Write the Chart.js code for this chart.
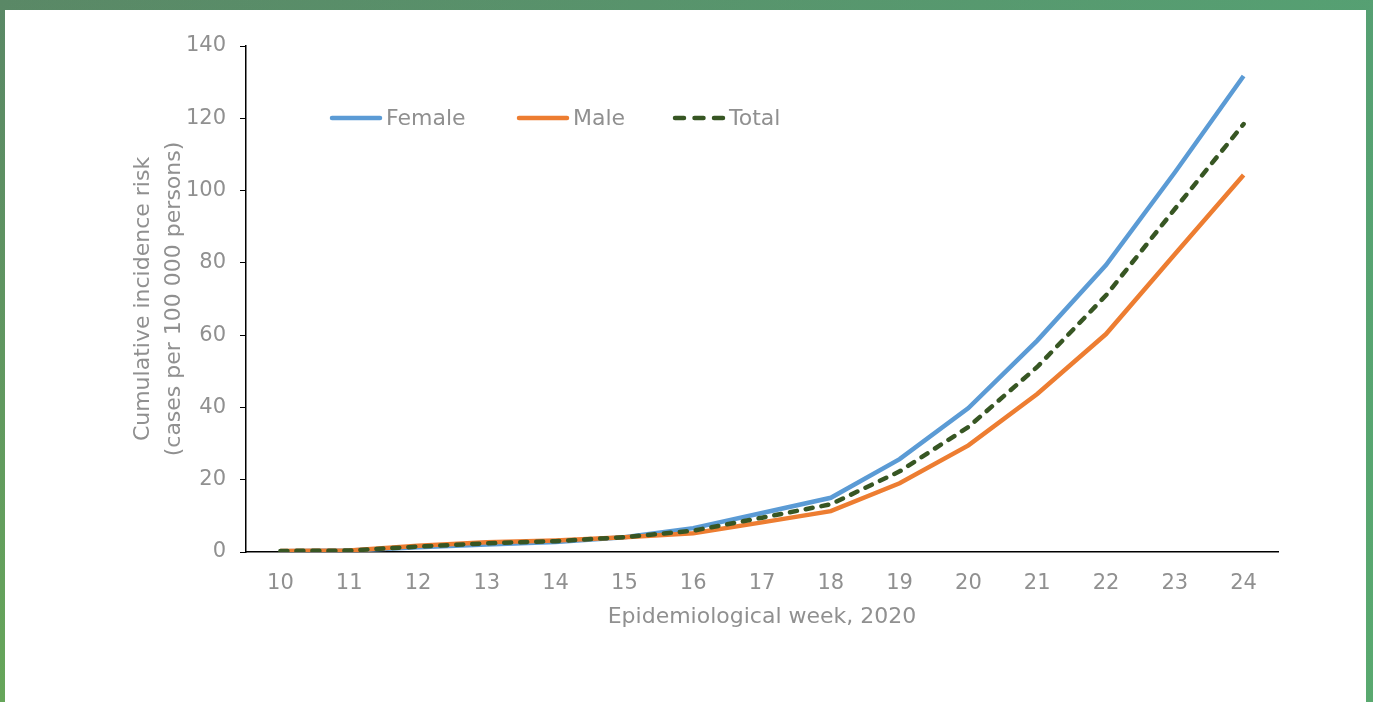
<!DOCTYPE html>
<html>
<head>
<meta charset="utf-8">
<script src="https://cdn.jsdelivr.net/npm/chart.js@4.4.1/dist/chart.umd.min.js"></script>
<style>
  html, body { margin: 0; padding: 0; }
  body {
    width: 1373px; height: 702px; position: relative; overflow: hidden;
    background: linear-gradient(to bottom, #5a8866, #66a65a);
  }
  #tint {
    position: absolute; left: 0; top: 0; width: 1373px; height: 702px;
    background: linear-gradient(to right, rgba(90,136,102,0), rgba(84,170,120,0.7));
  }
  #panel {
    position: absolute; left: 5px; top: 10px; width: 1361px; height: 692px;
    background: #fff;
  }
  #wrap { position: absolute; left: 0; top: 0; width: 1373px; height: 702px; }
</style>
</head>
<body>
<div id="tint"></div>
<div id="panel"></div>
<div id="wrap"><canvas id="myChart"></canvas></div>
<script>
// Epidemiological weeks on the x axis
const weeks = ['10', '11', '12', '13', '14', '15', '16', '17', '18', '19', '20', '21', '22', '23', '24'];

// Cumulative incidence risk (cases per 100 000 persons)
const female = [0.2, 0.4, 1.3, 2.1, 2.8, 4.1, 6.6, 10.8, 15.0, 25.7, 39.8, 58.5, 79.4, 105.0, 131.7];
const male   = [0.3, 0.4, 1.7, 2.7, 3.2, 4.1, 5.2, 8.2, 11.3, 19.0, 29.5, 43.7, 60.3, 82.4, 104.3];
const total  = [0.3, 0.4, 1.5, 2.4, 3.0, 4.1, 5.9, 9.5, 13.2, 22.3, 34.6, 51.2, 71.0, 94.9, 118.4];

const yTitle = ['Cumulative incidence risk', '(cases per 100 000 persons)'];
const xTitle = 'Epidemiological week, 2020';

const gray = '#909090';
const fontFamily = '"DejaVu Sans", sans-serif';

// Legend drawn inside the plot area, like the original
const innerLegend = {
    id: 'innerLegend',
    afterDraw(chart) {
        const ctx = chart.ctx;
        const area = chart.chartArea;
        const xs = [84, 271, 427]; // item offsets from the left of the plot area
        const y = area.top + 72;
        ctx.save();
        ctx.font = '22px ' + fontFamily;
        ctx.textBaseline = 'middle';
        ctx.fillStyle = gray;
        chart.data.datasets.forEach((ds, i) => {
            const x0 = area.left + xs[i];
            ctx.beginPath();
            ctx.strokeStyle = ds.borderColor;
            ctx.lineWidth = 4.5;
            ctx.lineCap = 'round';
            ctx.setLineDash(ds.borderDash ? [9, 10.5] : []); // three dashes in the sample
            ctx.moveTo(x0 + 2, y);
            ctx.lineTo(x0 + 50, y);
            ctx.stroke();
            ctx.setLineDash([]);
            ctx.fillText(ds.label, x0 + 56, y + 1);
        });
        ctx.restore();
    }
};

const config = {
    type: 'line',
    data: {
        labels: weeks,
        datasets: [
            {
                label: 'Female',
                data: female,
                borderColor: '#5b9bd5',
                borderWidth: 4.5,
                pointRadius: 0,
                order: 2
            },
            {
                label: 'Male',
                data: male,
                borderColor: '#ed7d31',
                borderWidth: 4.5,
                pointRadius: 0,
                order: 1
            },
            {
                label: 'Total',
                data: total,
                borderColor: '#375623',
                borderWidth: 4.5,
                borderDash: [7, 9],
                borderCapStyle: 'round',
                pointRadius: 0,
                order: 0
            }
        ]
    },
    options: {
        responsive: false,
        animation: false,
        layout: {
            padding: { left: 128, right: 95, top: 46, bottom: 69 }
        },
        plugins: {
            legend: { display: false },
            tooltip: { enabled: false }
        },
        scales: {
            x: {
                offset: true,
                grid: { drawOnChartArea: false, drawTicks: false },
                border: { color: '#000', width: 1.5 },
                ticks: { color: gray, font: { size: 21, family: fontFamily }, padding: 19 },
                title: {
                    display: true,
                    text: xTitle,
                    color: gray,
                    font: { size: 22, family: fontFamily, lineHeight: 1.4 },
                    padding: 0
                },
                afterFit(scale) { scale.height = 81; }
            },
            y: {
                min: 0,
                max: 140,
                ticks: { stepSize: 20, color: gray, font: { size: 21, family: fontFamily }, padding: 14 },
                grid: { drawOnChartArea: false, drawTicks: true, tickLength: 6, color: '#000' },
                border: { color: '#000', width: 1.5 },
                title: {
                    display: true,
                    text: yTitle,
                    color: gray,
                    font: { size: 22, family: fontFamily, lineHeight: 1.4 },
                    padding: 0
                },
                afterFit(scale) { scale.width = 118; }
            }
        }
    },
    plugins: [innerLegend]
};

const canvas = document.getElementById('myChart');
canvas.width = 1373;
canvas.height = 702;
const myChart = new Chart(canvas, config);
</script>
</body>
</html>
